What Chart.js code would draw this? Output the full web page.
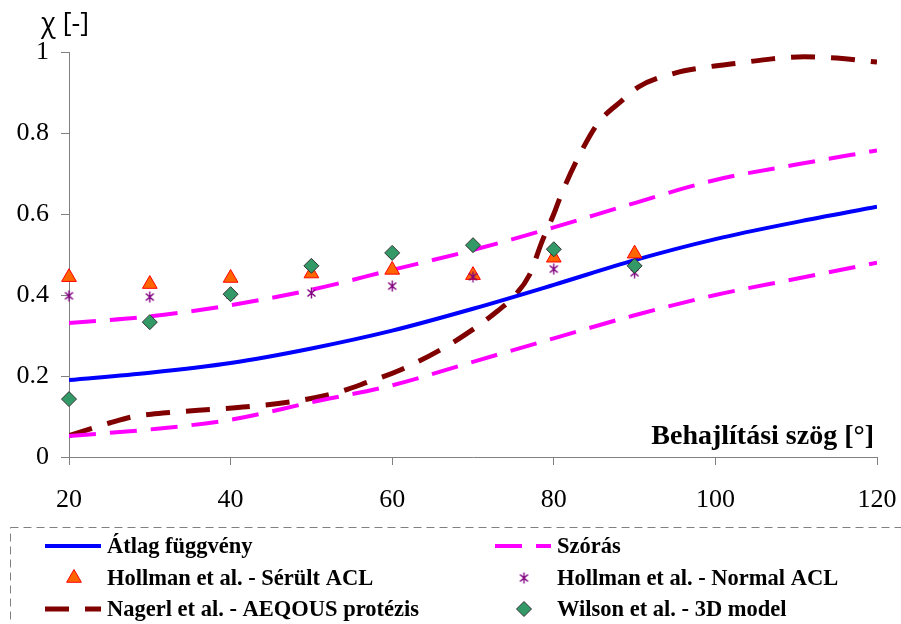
<!DOCTYPE html>
<html>
<head>
<meta charset="utf-8">
<script src="https://cdn.jsdelivr.net/npm/chart.js@4.4.0/dist/chart.umd.min.js"></script>
<style>
  html, body { margin: 0; padding: 0; background: #fff; }
  canvas { display: block; }
</style>
</head>
<body>
<canvas id="chart" width="901" height="624"></canvas>
<script>
// Fitted curves, x = flexion angle in degrees
const curveX = [20, 30, 40, 50, 60, 70, 80, 90, 100, 110, 120];
const atlag = [0.19, 0.208, 0.232, 0.268, 0.312, 0.366, 0.425, 0.486, 0.538, 0.58, 0.618];
const szorasUpper = [0.331, 0.347, 0.375, 0.413, 0.462, 0.511, 0.567, 0.627, 0.684, 0.722, 0.757];
const szorasLower = [0.052, 0.068, 0.092, 0.135, 0.177, 0.235, 0.293, 0.35, 0.4, 0.44, 0.48];

// Nagerl et al. curve
const nagerlX = [20, 25, 28, 32, 38, 42, 48, 53, 57, 61, 66, 70, 73, 75, 77, 78.5, 80, 81, 83.5, 85.5, 88.5, 90.5, 95, 99, 103, 107, 111, 115, 120];
const nagerlY = [0.053, 0.084, 0.1, 0.109, 0.118, 0.124, 0.138, 0.158, 0.185, 0.215, 0.265, 0.315, 0.36, 0.395, 0.45, 0.53, 0.6, 0.652, 0.758, 0.825, 0.881, 0.914, 0.948, 0.963, 0.973, 0.983, 0.988, 0.985, 0.975];

// Measured points
const pointX = [20, 30, 40, 50, 60, 70, 80, 90];
const hollmanSerult = [0.444, 0.427, 0.442, 0.453, 0.462, 0.449, 0.492, 0.502];
const hollmanNormal = [0.398, 0.395, 0.40, 0.405, 0.422, 0.445, 0.464, 0.455];
const wilson = [0.143, 0.333, 0.402, 0.472, 0.504, 0.523, 0.513, 0.472];

const xTicks = [20, 40, 60, 80, 100, 120];
const yTicks = [0, 0.2, 0.4, 0.6, 0.8, 1];

const toXY = (xs, ys) => xs.map((x, i) => ({ x: x, y: ys[i] }));

// Excel style asterisk marker
function makeStar(color) {
    const c = document.createElement('canvas');
    c.width = 11; c.height = 12;
    const g = c.getContext('2d');
    g.strokeStyle = color;
    g.lineWidth = 1.4;
    g.beginPath();
    g.moveTo(1.5, 2.5); g.lineTo(9.5, 9.5);
    g.moveTo(9.5, 2.5); g.lineTo(1.5, 9.5);
    g.moveTo(5.5, 0.5); g.lineTo(5.5, 11.5);
    g.stroke();
    return c;
}
const starImg = makeStar('#800080');

const serif = "'Liberation Serif', 'DejaVu Serif', serif";
const gray = '#808080';

const datasets = [
    {
        label: 'Wilson et al. - 3D model',
        data: toXY(pointX, wilson),
        pointStyle: 'rectRot', pointRadius: 7.5, pointHoverRadius: 7.5,
        backgroundColor: '#339966', borderColor: '#333333', borderWidth: 1,
        showLine: false, clip: false, order: 1
    },
    {
        label: 'Hollman et al. - Normal ACL',
        data: toXY(pointX, hollmanNormal),
        pointStyle: starImg, pointRadius: 6,
        borderColor: '#800080', backgroundColor: '#800080',
        showLine: false, clip: false, order: 2
    },
    {
        label: 'Hollman et al. - Sérült ACL',
        data: toXY(pointX, hollmanSerult),
        pointStyle: 'triangle', pointRadius: 8.5, pointHoverRadius: 8.5,
        backgroundColor: '#FF6600', borderColor: '#FF0000', borderWidth: 1,
        showLine: false, clip: false, order: 3
    },
    {
        label: 'Átlag függvény',
        data: toXY(curveX, atlag),
        showLine: true, borderColor: '#0000FF', borderWidth: 4,
        pointRadius: 0, cubicInterpolationMode: 'monotone', order: 4
    },
    {
        label: 'Szórás',
        data: toXY(curveX, szorasUpper),
        showLine: true, borderColor: '#FF00FF', borderWidth: 4, borderDash: [27, 14],
        pointRadius: 0, cubicInterpolationMode: 'monotone', order: 5
    },
    {
        label: 'Szórás',
        data: toXY(curveX, szorasLower),
        showLine: true, borderColor: '#FF00FF', borderWidth: 4, borderDash: [27, 14],
        pointRadius: 0, cubicInterpolationMode: 'monotone', order: 5
    },
    {
        label: 'Nagerl et al. - AEQOUS protézis',
        data: toXY(nagerlX, nagerlY),
        showLine: true, borderColor: '#800000', borderWidth: 5, borderDash: [24, 16],
        pointRadius: 0, cubicInterpolationMode: 'monotone', order: 6
    }
];

// legend layout: [dataset index, column, row]
const legendItems = [
    [3, 0, 0], [4, 1, 0],
    [2, 0, 1], [1, 1, 1],
    [6, 0, 2], [0, 1, 2]
];

function drawMarker(ctx, ds, x, y) {
    ctx.save();
    ctx.setLineDash([]);
    if (ds.pointStyle === starImg) {
        ctx.drawImage(starImg, x - starImg.width / 2, y - starImg.height / 2);
    } else if (ds.pointStyle === 'triangle') {
        const r = ds.pointRadius;
        ctx.beginPath();
        ctx.moveTo(x, y - r);
        ctx.lineTo(x + r * 0.866, y + r * 0.5);
        ctx.lineTo(x - r * 0.866, y + r * 0.5);
        ctx.closePath();
        ctx.fillStyle = ds.backgroundColor; ctx.fill();
        ctx.strokeStyle = ds.borderColor; ctx.lineWidth = 1; ctx.stroke();
    } else {
        const r = ds.pointRadius;
        ctx.beginPath();
        ctx.moveTo(x, y - r); ctx.lineTo(x + r, y);
        ctx.lineTo(x, y + r); ctx.lineTo(x - r, y);
        ctx.closePath();
        ctx.fillStyle = ds.backgroundColor; ctx.fill();
        ctx.strokeStyle = ds.borderColor; ctx.lineWidth = 1; ctx.stroke();
    }
    ctx.restore();
}

const extrasPlugin = {
    id: 'extras',
    afterDraw(chart) {
        const ctx = chart.ctx;
        const area = chart.chartArea;
        ctx.save();

        // axis titles
        ctx.fillStyle = '#000';
        ctx.font = "27px 'Open Sans', 'DejaVu Sans', sans-serif";
        ctx.textAlign = 'left';
        ctx.textBaseline = 'alphabetic';
        ctx.fillText('χ [-]', 41, 32);

        ctx.font = "bold 28px " + serif;
        ctx.textAlign = 'right';
        ctx.fillText('Behajlítási szög [°]', area.right - 3, 444);

        // legend frame
        ctx.strokeStyle = gray;
        ctx.lineWidth = 1;
        ctx.setLineDash([8, 5]);
        ctx.strokeRect(10.5, 527.5, 920, 140);

        // legend entries
        const colX = [45, 495];
        const rowY = [546, 578, 609];
        ctx.font = "bold 22.5px " + serif;
        ctx.textAlign = 'left';
        ctx.textBaseline = 'middle';
        legendItems.forEach(([idx, col, row]) => {
            const ds = chart.data.datasets[idx];
            const x0 = colX[col];
            const y = rowY[row];
            if (ds.showLine) {
                ctx.save();
                ctx.strokeStyle = ds.borderColor;
                ctx.lineWidth = ds.borderWidth;
                ctx.setLineDash(ds.borderDash || []);
                ctx.beginPath();
                ctx.moveTo(x0, y);
                ctx.lineTo(x0 + 56, y);
                ctx.stroke();
                ctx.restore();
            } else {
                drawMarker(ctx, ds, x0 + 29, y);
            }
            ctx.fillStyle = '#000';
            ctx.fillText(ds.label, x0 + 62, y + 1);
        });
        ctx.restore();
    }
};

new Chart(document.getElementById('chart'), {
    type: 'scatter',
    data: { datasets: datasets },
    options: {
        responsive: false,
        animation: false,
        events: [],
        layout: { padding: { left: 0, top: 52, right: 24, bottom: 107 } },
        plugins: {
            legend: { display: false },
            tooltip: { enabled: false }
        },
        scales: {
            x: {
                type: 'linear',
                min: 20, max: 120,
                afterFit: (s) => { s.height = 60; s.paddingLeft = 0; s.paddingRight = 0; },
                afterBuildTicks: (s) => { s.ticks = xTicks.map(v => ({ value: v })); },
                border: { color: gray, width: 1 },
                grid: { drawOnChartArea: false, drawTicks: true, tickLength: 8, color: gray },
                ticks: { color: '#000', padding: 20, font: { family: serif, size: 26 }, callback: (v) => String(v) }
            },
            y: {
                type: 'linear',
                min: 0, max: 1,
                afterFit: (s) => { s.width = 69; s.paddingTop = 0; s.paddingBottom = 0; },
                afterBuildTicks: (s) => { s.ticks = yTicks.map(v => ({ value: v })); },
                border: { color: gray, width: 1 },
                grid: { drawOnChartArea: false, drawTicks: true, tickLength: 8, color: gray },
                ticks: { color: '#000', padding: 12, font: { family: serif, size: 26 }, callback: (v) => String(v) }
            }
        }
    },
    plugins: [extrasPlugin]
});
</script>
</body>
</html>
